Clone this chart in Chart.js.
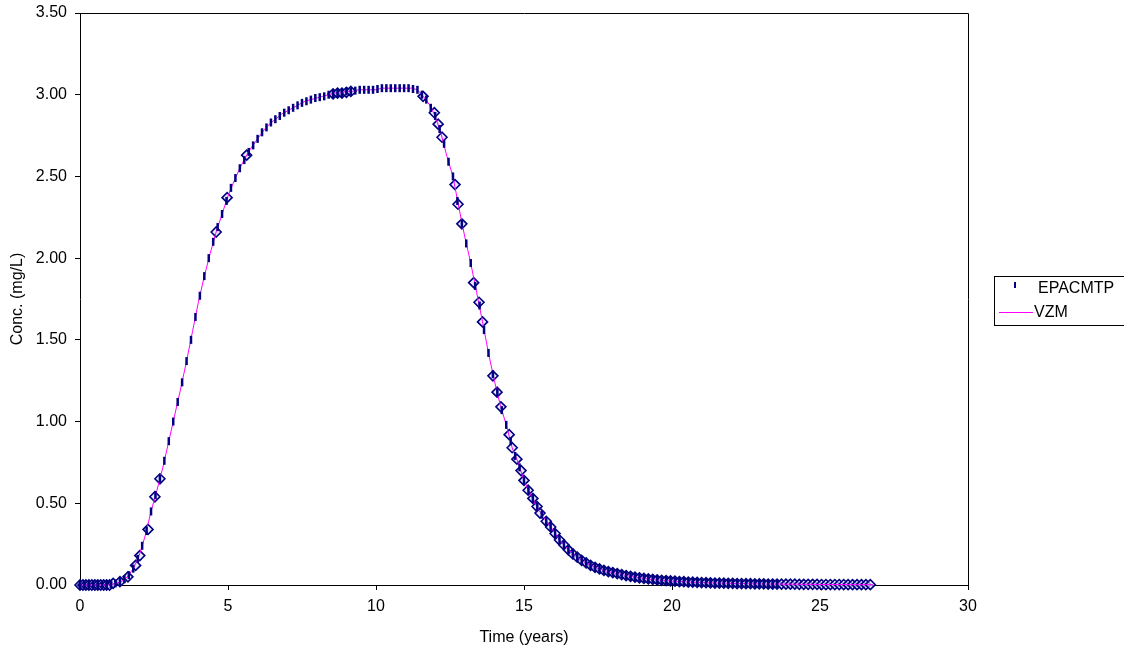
<!DOCTYPE html>
<html>
<head>
<meta charset="utf-8">
<script src="https://cdn.jsdelivr.net/npm/chart.js@4/dist/chart.umd.min.js"></script>
<style>
  html, body { margin: 0; padding: 0; background: #fff; }
  #wrap { width: 1124px; height: 649px; position: relative; }
</style>
</head>
<body>
<div id="wrap"><canvas id="chart"></canvas></div>
<script>
// EPACMTP output times (years), output stops near 23.6 yr
const epacmtpTime = [
  0, 0.15, 0.3, 0.45, 0.6, 0.75, 0.9, 1.05, 1.2, 1.35, 1.5, 1.65, 1.8, 1.95, 2.1, 2.25, 2.4, 2.55, 2.7, 2.85,
  3.0, 3.15, 3.3, 3.45, 3.6, 3.75, 3.9, 4.05, 4.2, 4.35, 4.5, 4.65, 4.8, 4.95, 5.1, 5.25, 5.4, 5.55, 5.7, 5.85,
  6.0, 6.15, 6.3, 6.45, 6.6, 6.75, 6.9, 7.05, 7.2, 7.35, 7.5, 7.65, 7.8, 7.95, 8.1, 8.25, 8.4, 8.55, 8.7, 8.85,
  9.0, 9.15, 9.3, 9.45, 9.6, 9.75, 9.9, 10.05, 10.2, 10.35, 10.5, 10.65, 10.8, 10.95, 11.1, 11.25, 11.4, 11.55, 11.7, 11.85,
  12.0, 12.15, 12.3, 12.45, 12.6, 12.75, 12.9, 13.05, 13.2, 13.35, 13.5, 13.65, 13.8, 13.95, 14.1, 14.25, 14.4, 14.55, 14.7, 14.85,
  15.0, 15.15, 15.3, 15.45, 15.6, 15.75, 15.9, 16.05, 16.2, 16.35, 16.5, 16.65, 16.8, 16.95, 17.1, 17.25, 17.4, 17.55, 17.7, 17.85,
  18.0, 18.15, 18.3, 18.45, 18.6, 18.75, 18.9, 19.05, 19.2, 19.35, 19.5, 19.65, 19.8, 19.95, 20.1, 20.25, 20.4, 20.55, 20.7, 20.85,
  21.0, 21.15, 21.3, 21.45, 21.6, 21.75, 21.9, 22.05, 22.2, 22.35, 22.5, 22.65, 22.8, 22.95, 23.1, 23.25, 23.4, 23.55
];
const epacmtpConc = [
  0, 0, 0, 0, 0, 0, 0, 0.005, 0.01, 0.02, 0.035, 0.06, 0.10, 0.16, 0.24, 0.33, 0.45, 0.55, 0.65, 0.76,
  0.88, 1.00, 1.12, 1.24, 1.37, 1.50, 1.64, 1.77, 1.89, 2.00, 2.10, 2.19, 2.27, 2.35, 2.43, 2.49, 2.55, 2.60, 2.65, 2.69,
  2.73, 2.77, 2.80, 2.83, 2.85, 2.87, 2.89, 2.905, 2.92, 2.935, 2.95, 2.96, 2.97, 2.98, 2.985, 2.99, 3.00, 3.005, 3.01, 3.01,
  3.02, 3.02, 3.025, 3.03, 3.03, 3.03, 3.03, 3.035, 3.04, 3.04, 3.04, 3.04, 3.04, 3.04, 3.04, 3.035, 3.03, 3.00, 2.97, 2.92,
  2.87, 2.79, 2.70, 2.59, 2.50, 2.35, 2.21, 2.09, 1.97, 1.83, 1.71, 1.56, 1.42, 1.29, 1.18, 1.07, 0.98, 0.88, 0.79, 0.72,
  0.64, 0.58, 0.53, 0.48, 0.43, 0.39, 0.355, 0.315, 0.275, 0.245, 0.215, 0.19, 0.17, 0.15, 0.135, 0.12, 0.108, 0.098, 0.089, 0.082,
  0.076, 0.07, 0.064, 0.058, 0.053, 0.048, 0.044, 0.040, 0.037, 0.034, 0.031, 0.029, 0.027, 0.025, 0.023, 0.021, 0.020, 0.018, 0.017, 0.016,
  0.015, 0.014, 0.013, 0.012, 0.012, 0.011, 0.010, 0.010, 0.009, 0.009, 0.008, 0.008, 0.007, 0.007, 0.007, 0.006, 0.006, 0.006
];

// VZM curve (years, mg/L)
const vzmTime = [
  0, 0.2, 0.4, 0.6, 0.8, 1.0, 1.2, 1.4, 1.6, 1.8, 2.0, 2.2, 2.4, 2.6, 2.8, 3.0, 3.2, 3.4, 3.6, 3.8,
  4.0, 4.2, 4.4, 4.6, 4.8, 5.0, 5.2, 5.4, 5.6, 5.8, 6.0, 6.2, 6.4, 6.6, 6.8, 7.0, 7.2, 7.4, 7.6, 7.8,
  8.0, 8.2, 8.4, 8.6, 8.8, 9.0, 9.2, 9.4, 9.6, 9.8, 10.0, 10.2, 10.4, 10.6, 10.8, 11.0, 11.2, 11.4, 11.6, 11.8,
  12.0, 12.2, 12.4, 12.6, 12.8, 13.0, 13.2, 13.4, 13.6, 13.8, 14.0, 14.2, 14.4, 14.6, 14.8, 15.0, 15.2, 15.4, 15.6, 15.8,
  16.0, 16.2, 16.4, 16.6, 16.8, 17.0, 17.2, 17.4, 17.6, 17.8, 18.0, 18.2, 18.4, 18.6, 18.8, 19.0, 19.2, 19.4, 19.6, 19.8,
  20.0, 20.2, 20.4, 20.6, 20.8, 21.0, 21.2, 21.4, 21.6, 21.8, 22.0, 22.2, 22.4, 22.6, 22.8, 23.0, 23.2, 23.4, 23.6, 23.8,
  24.0, 24.2, 24.4, 24.6, 24.8, 25.0, 25.2, 25.4, 25.6, 25.8, 26.0, 26.2, 26.4, 26.6, 26.8
];
const vzmConc = [
  0, 0, 0, 0, 0, 0, 0.01, 0.02, 0.05, 0.10, 0.18, 0.30, 0.45, 0.58, 0.72, 0.88, 1.04, 1.20, 1.37, 1.55,
  1.73, 1.89, 2.03, 2.16, 2.27, 2.38, 2.47, 2.55, 2.62, 2.68, 2.73, 2.78, 2.82, 2.85, 2.88, 2.90, 2.92, 2.94, 2.96, 2.97,
  2.98, 2.99, 3.00, 3.01, 3.01, 3.02, 3.02, 3.03, 3.03, 3.03, 3.03, 3.04, 3.04, 3.04, 3.04, 3.04, 3.04, 3.03, 2.99, 2.94,
  2.87, 2.76, 2.62, 2.50, 2.31, 2.13, 1.97, 1.79, 1.61, 1.42, 1.25, 1.10, 0.98, 0.84, 0.75, 0.64, 0.56, 0.49, 0.43, 0.38,
  0.33, 0.275, 0.235, 0.20, 0.17, 0.145, 0.125, 0.108, 0.095, 0.084, 0.076, 0.068, 0.060, 0.053, 0.047, 0.042, 0.037, 0.033, 0.030, 0.027,
  0.024, 0.022, 0.020, 0.018, 0.016, 0.015, 0.014, 0.012, 0.012, 0.011, 0.010, 0.009, 0.009, 0.008, 0.007, 0.007, 0.006, 0.006, 0.006, 0.005,
  0.005, 0.005, 0.004, 0.004, 0.004, 0.003, 0.003, 0.003, 0.003, 0.003, 0.002, 0.002, 0.002, 0.002, 0.002
];

// VZM output-step markers (diamonds, not in legend)
const vzmStepTime = [
  0, 0.1, 0.2, 0.3, 0.4, 0.5, 0.6, 0.7, 0.8, 0.9, 1.0, 1.12, 1.35, 1.62, 1.88, 2.02, 2.3, 2.53, 2.7,
  4.6, 4.97, 5.63, 8.55, 8.7, 8.85, 9.0, 9.15,
  11.59, 11.97, 12.1, 12.23, 12.67, 12.77, 12.9, 13.3, 13.48, 13.6, 13.95, 14.09, 14.22,
  14.5, 14.6, 14.76, 14.9, 15.0, 15.14, 15.3, 15.44, 15.54,
  15.75, 15.9, 16.05, 16.2, 16.35, 16.5, 16.65, 16.8, 16.95, 17.1, 17.25, 17.4, 17.55, 17.7, 17.85, 18.0,
  18.15, 18.3, 18.45, 18.6, 18.75, 18.9, 19.05, 19.2, 19.35, 19.5, 19.65, 19.8, 19.95, 20.1, 20.25, 20.4,
  20.55, 20.7, 20.85, 21.0, 21.15, 21.3, 21.45, 21.6, 21.75, 21.9, 22.05, 22.2, 22.35, 22.5, 22.65, 22.8,
  22.95, 23.1, 23.25, 23.4, 23.55, 23.7, 23.85, 24.0, 24.15, 24.3, 24.45, 24.6, 24.75, 24.9, 25.05, 25.2,
  25.35, 25.5, 25.65, 25.8, 25.95, 26.1, 26.25, 26.4, 26.55, 26.7
];
const vzmStepConc = [
  0, 0, 0, 0, 0, 0, 0, 0, 0, 0, 0, 0.01, 0.02, 0.05, 0.12, 0.18, 0.34, 0.54, 0.65,
  2.16, 2.37, 2.63, 3.005, 3.01, 3.01, 3.015, 3.02,
  2.99, 2.89, 2.82, 2.74, 2.45, 2.33, 2.21, 1.85, 1.73, 1.61, 1.28, 1.18, 1.09,
  0.92, 0.84, 0.77, 0.70, 0.64, 0.58, 0.53, 0.48, 0.44,
  0.39, 0.355, 0.315, 0.275, 0.245, 0.215, 0.19, 0.17, 0.15, 0.135, 0.12, 0.108, 0.098, 0.089, 0.082, 0.076,
  0.07, 0.064, 0.058, 0.053, 0.048, 0.044, 0.040, 0.037, 0.034, 0.031, 0.029, 0.027, 0.025, 0.023, 0.021, 0.020,
  0.018, 0.017, 0.016, 0.015, 0.014, 0.013, 0.012, 0.012, 0.011, 0.010, 0.010, 0.009, 0.009, 0.008, 0.008, 0.007,
  0.007, 0.007, 0.006, 0.006, 0.006, 0.005, 0.005, 0.005, 0.005, 0.004, 0.004, 0.004, 0.004, 0.004, 0.003, 0.003,
  0.003, 0.003, 0.003, 0.003, 0.002, 0.002, 0.002, 0.002, 0.002, 0.002
];

const xTicks = [0, 5, 10, 15, 20, 25, 30];
const yTicks = [0, 0.5, 1.0, 1.5, 2.0, 2.5, 3.0, 3.5];

const FONT = "'Liberation Sans', Arial, sans-serif";
const NAVY = "#000080";
const MAGENTA = "#FF00FF";

function points(times, values) {
  return values.map((v, i) => ({ x: times[i], y: v }));
}

// Excel-style plot frame (top and right edges)
const frame = {
  id: "frame",
  beforeDatasetsDraw(chart) {
    const { ctx, chartArea: a } = chart;
    ctx.save();
    ctx.strokeStyle = "#000";
    ctx.lineWidth = 1;
    ctx.beginPath();
    ctx.moveTo(Math.round(a.left) + 0.5, Math.round(a.top) + 0.5);
    ctx.lineTo(Math.round(a.right) + 0.5, Math.round(a.top) + 0.5);
    ctx.lineTo(Math.round(a.right) + 0.5, Math.round(a.bottom) + 0.5);
    ctx.stroke();
    ctx.restore();
  }
};

// boxed legend on the right
const boxLegend = {
  id: "boxLegend",
  afterDraw(chart) {
    const ctx = chart.ctx;
    ctx.save();
    ctx.strokeStyle = "#000";
    ctx.lineWidth = 1;
    ctx.strokeRect(994.5, 276.5, 135, 49);
    ctx.strokeStyle = NAVY;
    ctx.lineWidth = 2;
    ctx.beginPath();
    ctx.moveTo(1015, 282);
    ctx.lineTo(1015, 288);
    ctx.stroke();
    ctx.strokeStyle = MAGENTA;
    ctx.lineWidth = 1;
    ctx.beginPath();
    ctx.moveTo(999, 312.5);
    ctx.lineTo(1033, 312.5);
    ctx.stroke();
    ctx.fillStyle = "#000";
    ctx.font = "16px " + FONT;
    ctx.textBaseline = "middle";
    ctx.fillText("EPACMTP", 1038, 289);
    ctx.fillText("VZM", 1034, 313);
    ctx.restore();
  }
};

new Chart(document.getElementById("chart"), {
  type: "scatter",
  data: {
    datasets: [
      {
        label: "EPACMTP",
        data: points(epacmtpTime, epacmtpConc),
        showLine: false,
        pointStyle: "line",
        rotation: 90,
        radius: 4,
        borderColor: NAVY,
        borderWidth: 2.5,
        clip: false,
        order: 1
      },
      {
        label: "VZM",
        data: points(vzmTime, vzmConc),
        showLine: true,
        borderColor: MAGENTA,
        borderWidth: 1,
        pointRadius: 0,
        tension: 0,
        clip: false,
        order: 2
      },
      {
        label: "VZM steps",
        data: points(vzmStepTime, vzmStepConc),
        showLine: false,
        pointStyle: "rectRot",
        radius: 5,
        borderColor: NAVY,
        borderWidth: 1.6,
        backgroundColor: "rgba(225,225,255,0.7)",
        clip: false,
        order: 3
      }
    ]
  },
  options: {
    responsive: true,
    maintainAspectRatio: false,
    animation: false,
    layout: { padding: { top: 13, right: 156, left: 0, bottom: 0 } },
    plugins: {
      legend: { display: false },
      tooltip: { enabled: false }
    },
    scales: {
      x: {
        type: "linear",
        min: 0,
        max: 30,
        afterBuildTicks: scale => { scale.ticks = xTicks.map(v => ({ value: v })); },
        afterFit: scale => { scale.height = 64; scale.paddingLeft = 0; scale.paddingRight = 0; },
        grid: { drawOnChartArea: false, drawTicks: true, tickLength: 5, color: "#000" },
        border: { display: true, color: "#000", width: 1 },
        ticks: { color: "#000", font: { family: FONT, size: 16 }, padding: 7, maxRotation: 0 },
        title: { display: true, text: "Time (years)", color: "#000", font: { family: FONT, size: 16 }, padding: { top: 0, bottom: 2 } }
      },
      y: {
        min: 0,
        max: 3.5,
        afterBuildTicks: scale => { scale.ticks = yTicks.map(v => ({ value: v })); },
        afterFit: scale => { scale.width = 80; scale.paddingTop = 0; scale.paddingBottom = 0; },
        grid: { drawOnChartArea: false, drawTicks: true, tickLength: 5, color: "#000" },
        border: { display: true, color: "#000", width: 1 },
        ticks: { color: "#000", font: { family: FONT, size: 16 }, padding: 8, callback: v => Number(v).toFixed(2) },
        title: { display: true, text: "Conc. (mg/L)", color: "#000", font: { family: FONT, size: 16 }, padding: { top: 8, bottom: 0 } }
      }
    }
  },
  plugins: [frame, boxLegend]
});
</script>
</body>
</html>
